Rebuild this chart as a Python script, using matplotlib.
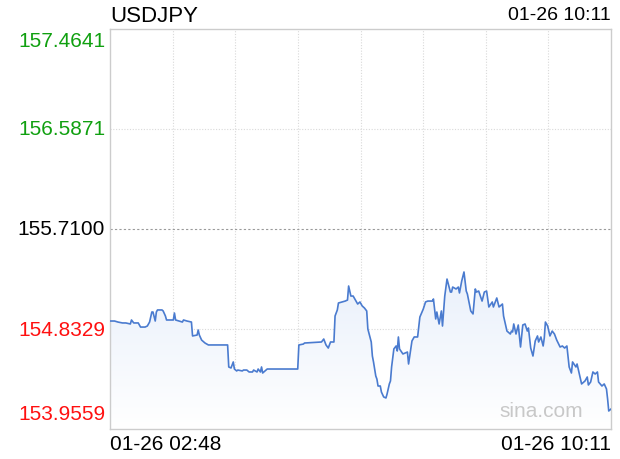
#!/usr/bin/env python3
"""USDJPY intraday line, sina style."""

import matplotlib
matplotlib.use("Agg")
import matplotlib.pyplot as plt
import numpy as np
from matplotlib.patches import Polygon

plt.rcParams.update({
    "font.family": ["Liberation Sans", "DejaVu Sans"],
    "figure.dpi": 100,
})

symbol = "USDJPY"
start_label = "01-26 02:48"
end_label = "01-26 10:11"
prev_close = 155.7100
y_ticks = [157.4641, 156.5871, 155.7100, 154.8329, 153.9559]
total_minutes = 443  # 02:48 -> 10:11

# minutes since 02:48
minutes = [
    0, 4, 7, 11, 14, 18, 19, 21, 25, 27, 31, 33, 35, 37, 38, 40, 41, 42, 46, 47,
    49, 50, 56, 57, 58, 64, 65, 68, 72, 73, 77, 78, 79, 81, 84, 87, 104, 105, 107, 109,
    110, 112, 113, 117, 118, 121, 123, 126, 127, 130, 131, 133, 134, 135, 137, 139, 166, 167, 171, 172,
    187, 189, 191, 193, 195, 198, 199, 201, 202, 205, 208, 210, 211, 213, 215, 217, 219, 221, 223, 225,
    227, 228, 231, 232, 233, 235, 236, 237, 239, 240, 242, 244, 245, 247, 248, 249, 251, 253, 254, 255,
    256, 259, 263, 264, 267, 269, 272, 274, 277, 279, 281, 285, 286, 288, 289, 291, 293, 294, 296, 298,
    301, 302, 303, 306, 308, 309, 311, 313, 315, 316, 319, 321, 323, 324, 326, 329, 331, 333, 335, 338,
    339, 342, 344, 347, 348, 351, 354, 355, 356, 357, 359, 361, 362, 363, 365, 367, 369, 370, 372, 374,
    376, 378, 379, 381, 383, 384, 385, 387, 389, 391, 393, 395, 398, 400, 402, 404, 406, 408, 409, 412,
    413, 415, 417, 420, 422, 423, 425, 427, 429, 431, 432, 435, 437, 439, 440, 441, 443,
]
prices = [
    154.903, 154.903, 154.894, 154.886, 154.886, 154.877, 154.912, 154.886, 154.886, 154.850,
    154.850, 154.859, 154.894, 154.982, 154.982, 154.903, 154.982, 155.000, 155.000, 154.991,
    154.947, 154.912, 154.912, 154.973, 154.912, 154.894, 154.912, 154.903, 154.894, 154.772,
    154.780, 154.824, 154.780, 154.736, 154.710, 154.693, 154.693, 154.500, 154.491, 154.544,
    154.482, 154.465, 154.473, 154.465, 154.473, 154.473, 154.456, 154.456, 154.473, 154.456,
    154.482, 154.456, 154.500, 154.447, 154.465, 154.482, 154.482, 154.693, 154.701, 154.710,
    154.719, 154.745, 154.693, 154.666, 154.719, 154.719, 154.947, 155.000, 155.061, 155.070,
    155.078, 155.087, 155.210, 155.122, 155.122, 155.087, 155.052, 155.070, 155.035, 155.017,
    154.991, 154.833, 154.719, 154.596, 154.544, 154.421, 154.394, 154.333, 154.333, 154.280,
    154.237, 154.228, 154.263, 154.351, 154.377, 154.500, 154.658, 154.684, 154.640, 154.763,
    154.658, 154.614, 154.631, 154.526, 154.728, 154.763, 154.763, 154.938, 155.008, 155.070,
    155.078, 155.078, 155.096, 154.921, 154.982, 154.877, 154.991, 154.859, 155.122, 155.271,
    155.157, 155.157, 155.201, 155.184, 155.201, 155.149, 155.254, 155.333, 155.166, 155.140,
    154.991, 154.965, 155.184, 155.157, 155.166, 155.078, 155.157, 155.166, 155.026, 155.070,
    155.026, 155.105, 155.026, 155.052, 154.947, 154.815, 154.789, 154.815, 154.807, 154.877,
    154.789, 154.868, 154.772, 154.675, 154.868, 154.877, 154.815, 154.842, 154.666, 154.596,
    154.728, 154.772, 154.719, 154.763, 154.684, 154.754, 154.894, 154.859, 154.772, 154.815,
    154.789, 154.736, 154.675, 154.684, 154.666, 154.684, 154.500, 154.447, 154.544, 154.500,
    154.526, 154.438, 154.351, 154.377, 154.412, 154.342, 154.368, 154.456, 154.438, 154.456,
    154.368, 154.333, 154.351, 154.307, 154.219, 154.114, 154.131,
]


def main() -> None:
    x = np.array(minutes, dtype=float)
    y = np.array(prices)
    ymin, ymax = y_ticks[-1], y_ticks[0]

    fig = plt.figure(figsize=(6.2, 4.6))
    ax = fig.add_axes([110 / 620, 30 / 460, 501 / 620, 400 / 460])
    ax.set_xlim(0, total_minutes)
    ax.set_ylim(ymin, ymax)

    # grid
    for gx in np.linspace(0, total_minutes, 9)[1:-1]:
        ax.axvline(gx, color="#d9d9d9", linewidth=0.8, linestyle=(0, (1, 1.5)), zorder=1)
    for gy in (y_ticks[1], y_ticks[3]):
        ax.axhline(gy, color="#d9d9d9", linewidth=0.8, linestyle=(0, (1, 1.5)), zorder=1)
    ax.axhline(prev_close, color="#9a9a9a", linewidth=0.8, linestyle=(0, (2, 2)), zorder=1)

    # gradient fill under line
    grad = np.linspace(0, 1, 256).reshape(-1, 1)
    img = ax.imshow(grad, extent=[0, total_minutes, ymin, y.max()], origin="lower",
                    aspect="auto", cmap=matplotlib.colors.LinearSegmentedColormap.from_list(
                        "fade", ["#ffffff", "#e9f0fb"]), zorder=2)
    poly = Polygon(np.column_stack([np.r_[x, x[-1], x[0]], np.r_[y, ymin, ymin]]),
                   closed=True, facecolor="none", edgecolor="none")
    ax.add_patch(poly)
    img.set_clip_path(poly)

    ax.plot(x, y, color="#4a7bcf", linewidth=1.2, zorder=3)

    for s in ax.spines.values():
        s.set_color("#cccccc")
        s.set_linewidth(1.0)
    ax.set_xticks([])
    ax.set_yticks([])

    colors = ["#10a010", "#10a010", "#000000", "#ff1010", "#ff1010"]
    for i, (v, c) in enumerate(zip(y_ticks, colors)):
        va = "top" if i == 0 else ("bottom" if i == len(y_ticks) - 1 else "center")
        off = -2 if i == 0 else (6 if i == len(y_ticks) - 1 else 0)
        ax.annotate(f"{v:.4f}", xy=(0, v), xycoords=("axes fraction", "data"),
                    xytext=(-5, off), textcoords="offset pixels",
                    ha="right", va=va, color=c, fontsize=15)

    fig.text(110 / 620, 1 - 16 / 460, symbol, fontsize=16, ha="left", va="center")
    fig.text(611 / 620, 1 - 16 / 460, end_label, fontsize=14, ha="right", va="center")
    fig.text(110 / 620, 1 - 445 / 460, start_label, fontsize=15, ha="left", va="center")
    fig.text(611 / 620, 1 - 445 / 460, end_label, fontsize=15, ha="right", va="center")
    ax.text(0.945, 0.045, "sina.com", transform=ax.transAxes, fontsize=15,
            color="#c8c8c8", ha="right", va="center", zorder=4)

    fig.savefig("out.png", dpi=100)


if __name__ == "__main__":
    main()
